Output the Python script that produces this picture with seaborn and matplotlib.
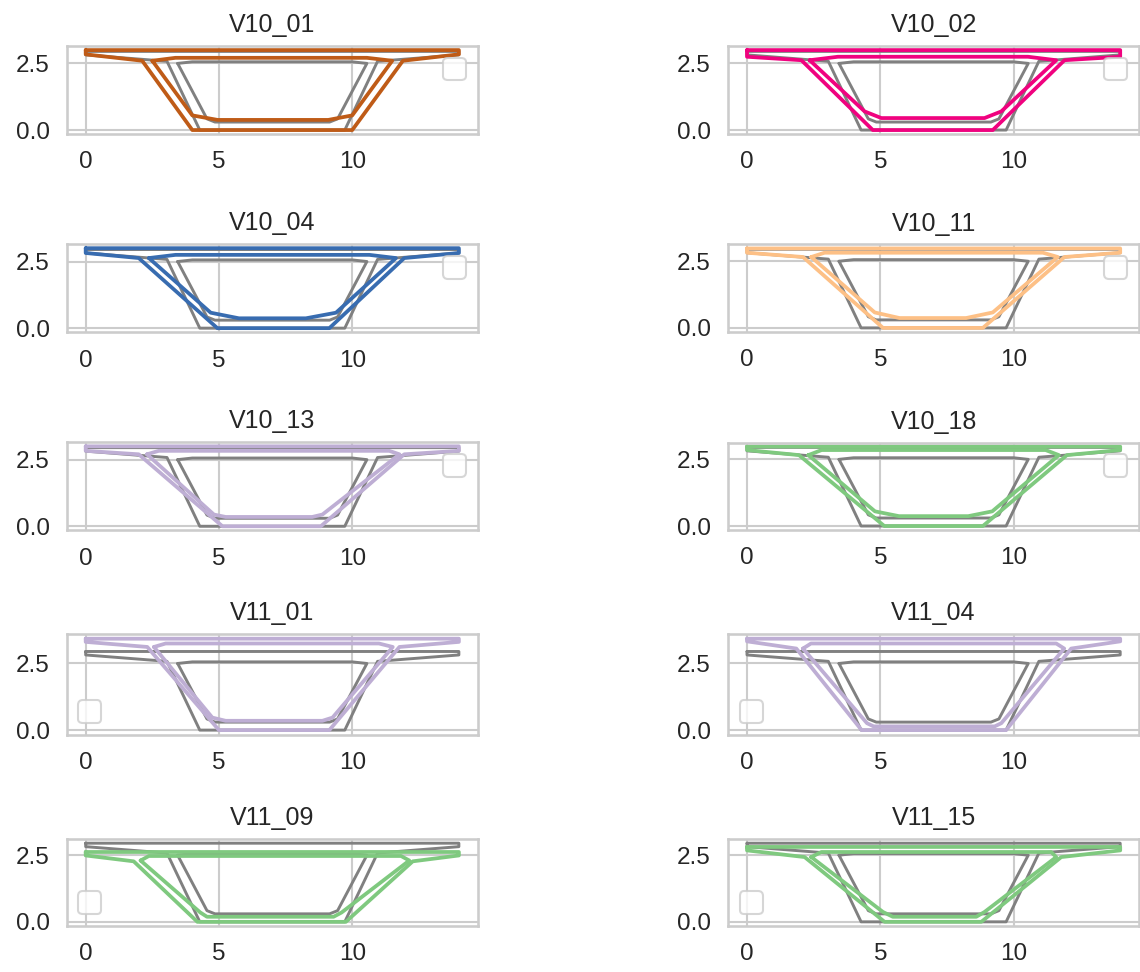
import matplotlib
matplotlib.use("Agg")
import matplotlib.pyplot as plt
from matplotlib.ticker import MultipleLocator
import seaborn as sns

# ---- data -------------------------------------------------------------
names = ["V10_01", "V10_02", "V10_04", "V10_11", "V10_13",
         "V10_18", "V11_01", "V11_04", "V11_09", "V11_15"]
colors = ["#bf5b17", "#f0027f", "#386cb0", "#fdc086", "#beaed4",
          "#7fc97f", "#beaed4", "#beaed4", "#7fc97f", "#7fc97f"]
legend_locs = ["upper right"] * 6 + ["lower left"] * 4
ytick_step = 2.5

# reference section (grey)
ref_outer_x = [0, 14, 14, 10.95, 9.72, 4.28, 3.05, 0, 0]
ref_outer_y = [2.95, 2.95, 2.82, 2.58, 0, 0, 2.58, 2.82, 2.95]
ref_inner_x = [3.45, 4.0, 10.0, 10.55, 9.45, 9.15, 4.85, 4.55, 3.45]
ref_inner_y = [2.5, 2.56, 2.56, 2.5, 0.42, 0.3, 0.3, 0.42, 2.5]

v10_01_outer_x = [0, 14, 14, 11.9, 10.0, 4.0, 2.12, 0, 0]
v10_01_outer_y = [3.0, 3.0, 2.84, 2.6, 0, 0, 2.6, 2.84, 3.0]
v10_01_inner_x = [2.5, 3.37, 10.55, 11.5, 10.0, 9.1, 4.95, 4.0, 2.5]
v10_01_inner_y = [2.6, 2.71, 2.71, 2.6, 0.55, 0.38, 0.38, 0.55, 2.6]

v10_02_outer_x = [0, 14, 14, 11.91, 9.22, 4.72, 2.04, 0, 0]
v10_02_outer_y = [3.0, 3.0, 2.75, 2.62, 0, 0, 2.62, 2.75, 3.0]
v10_02_inner_x = [2.35, 3.41, 10.54, 11.6, 9.54, 8.91, 5.04, 4.41, 2.35]
v10_02_inner_y = [2.62, 2.75, 2.75, 2.62, 0.7, 0.45, 0.45, 0.7, 2.62]

v10_04_outer_x = [0, 14, 14, 11.95, 9.14, 4.94, 1.99, 0, 0]
v10_04_outer_y = [3.0, 3.0, 2.82, 2.63, 0, 0, 2.63, 2.82, 3.0]
v10_04_inner_x = [2.37, 3.37, 10.64, 11.64, 9.39, 8.26, 5.75, 4.69, 2.37]
v10_04_inner_y = [2.63, 2.75, 2.75, 2.63, 0.58, 0.37, 0.37, 0.58, 2.63]

v10_11_outer_x = [0, 14, 14, 11.91, 8.85, 5.1, 2.1, 0, 0]
v10_11_outer_y = [2.98, 2.98, 2.82, 2.66, 0, 0, 2.66, 2.82, 2.98]
v10_11_inner_x = [2.41, 2.91, 11.1, 11.66, 9.22, 8.22, 5.72, 4.79, 2.41]
v10_11_inner_y = [2.66, 2.82, 2.82, 2.66, 0.58, 0.37, 0.37, 0.58, 2.66]

v10_13_outer_x = [0, 14, 14, 11.95, 8.82, 5.13, 1.99, 0, 0]
v10_13_outer_y = [3.0, 3.0, 2.83, 2.7, 0, 0, 2.7, 2.83, 3.0]
v10_13_inner_x = [2.3, 2.74, 11.39, 11.77, 8.88, 8.5, 5.25, 4.81, 2.3]
v10_13_inner_y = [2.7, 2.83, 2.83, 2.7, 0.44, 0.35, 0.35, 0.44, 2.7]

v10_18_outer_x = [0, 14, 14, 12.0, 8.85, 5.15, 1.95, 0, 0]
v10_18_outer_y = [2.98, 2.98, 2.85, 2.66, 0, 0, 2.66, 2.85, 2.98]
v10_18_inner_x = [2.3, 2.8, 11.2, 11.7, 9.2, 8.3, 5.7, 4.8, 2.3]
v10_18_inner_y = [2.66, 2.85, 2.85, 2.66, 0.55, 0.37, 0.37, 0.55, 2.66]

v11_01_outer_x = [0, 14, 14, 11.77, 9.14, 5.0, 2.31, 0, 0]
v11_01_outer_y = [3.43, 3.43, 3.31, 3.12, 0, 0, 3.12, 3.31, 3.43]
v11_01_inner_x = [2.56, 3.0, 11.0, 11.52, 9.26, 8.88, 5.25, 4.75, 2.56]
v11_01_inner_y = [3.12, 3.25, 3.25, 3.12, 0.47, 0.35, 0.35, 0.47, 3.12]

v11_04_outer_x = [0, 14, 14, 12.16, 9.72, 4.3, 1.85, 0, 0]
v11_04_outer_y = [3.43, 3.43, 3.33, 3.06, 0, 0, 3.06, 3.33, 3.43]
v11_04_inner_x = [2.1, 2.4, 11.6, 11.9, 9.54, 9.29, 4.75, 4.5, 2.1]
v11_04_inner_y = [3.06, 3.25, 3.25, 3.06, 0.26, 0.14, 0.14, 0.26, 3.06]

v11_09_outer_x = [0, 14, 14, 12.27, 9.76, 4.19, 1.8, 0, 0]
v11_09_outer_y = [2.62, 2.62, 2.49, 2.27, 0, 0, 2.27, 2.49, 2.62]
v11_09_inner_x = [2.06, 2.37, 11.83, 12.14, 9.6, 9.3, 4.55, 4.3, 2.06]
v11_09_inner_y = [2.3, 2.47, 2.47, 2.3, 0.35, 0.19, 0.19, 0.35, 2.3]

v11_15_outer_x = [0, 14, 14, 11.79, 8.79, 5.16, 2.16, 0, 0]
v11_15_outer_y = [2.81, 2.81, 2.68, 2.43, 0, 0, 2.43, 2.68, 2.81]
v11_15_inner_x = [2.41, 2.79, 11.41, 11.6, 8.91, 8.6, 5.47, 5.1, 2.41]
v11_15_inner_y = [2.43, 2.62, 2.62, 2.43, 0.37, 0.19, 0.19, 0.37, 2.43]

sections = [
    (v10_01_outer_x, v10_01_outer_y, v10_01_inner_x, v10_01_inner_y),
    (v10_02_outer_x, v10_02_outer_y, v10_02_inner_x, v10_02_inner_y),
    (v10_04_outer_x, v10_04_outer_y, v10_04_inner_x, v10_04_inner_y),
    (v10_11_outer_x, v10_11_outer_y, v10_11_inner_x, v10_11_inner_y),
    (v10_13_outer_x, v10_13_outer_y, v10_13_inner_x, v10_13_inner_y),
    (v10_18_outer_x, v10_18_outer_y, v10_18_inner_x, v10_18_inner_y),
    (v11_01_outer_x, v11_01_outer_y, v11_01_inner_x, v11_01_inner_y),
    (v11_04_outer_x, v11_04_outer_y, v11_04_inner_x, v11_04_inner_y),
    (v11_09_outer_x, v11_09_outer_y, v11_09_inner_x, v11_09_inner_y),
    (v11_15_outer_x, v11_15_outer_y, v11_15_inner_x, v11_15_inner_y),
]

# ---- plot -------------------------------------------------------------
sns.set_theme(style="whitegrid", context="talk",
              rc={"xtick.labelsize": 17.5, "ytick.labelsize": 17.5,
                  "axes.titlesize": 18})
plt.rcParams["font.family"] = ["Liberation Sans", "DejaVu Sans"]

fig, axes = plt.subplots(5, 2, figsize=(11.4, 9.72), dpi=100)
fig.subplots_adjust(left=0.0588, right=0.999, top=0.9691, bottom=0.0303,
                    wspace=0.611, hspace=0.65)

for ax, name, col, loc, sec in zip(axes.flat, names, colors, legend_locs, sections):
    ox, oy, ix, iy = sec
    sns.lineplot(x=ref_outer_x, y=ref_outer_y, sort=False, estimator=None,
                 color="grey", lw=2.1, ax=ax)
    sns.lineplot(x=ref_inner_x, y=ref_inner_y, sort=False, estimator=None,
                 color="grey", lw=2.1, ax=ax)
    sns.lineplot(x=ox, y=oy, sort=False, estimator=None, color=col, lw=2.7, ax=ax)
    sns.lineplot(x=ix, y=iy, sort=False, estimator=None, color=col, lw=2.7, ax=ax)
    ax.set_aspect("equal")
    ax.yaxis.set_major_locator(MultipleLocator(ytick_step))
    ax.set_title(name, pad=10)
    ax.legend(loc=loc, borderpad=0.5, fontsize=16.5)

fig.savefig("out.png", dpi=100)
